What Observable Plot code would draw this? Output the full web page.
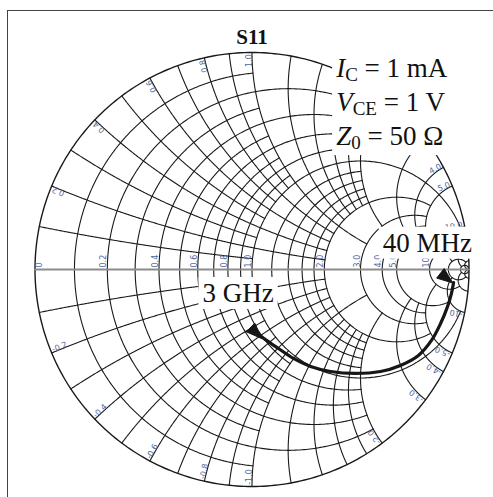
<!DOCTYPE html>
<html><head><meta charset="utf-8">
<script src="https://cdn.jsdelivr.net/npm/d3@7"></script>
<script src="https://cdn.jsdelivr.net/npm/@observablehq/plot@0.6"></script>
<style>
body{margin:0;background:#fff;overflow:hidden;}
#wrap{position:relative;width:493px;height:497px;overflow:hidden;background:#fff;}
#wrap svg{position:absolute;left:0;top:0;}
#frame{position:absolute;left:7px;top:10px;width:520px;height:520px;border:1.5px solid #444;pointer-events:none;}
</style></head><body>
<div id="wrap"></div>
<script>
// ---- Smith chart grid values ----
const rValues = [0.1,0.2,0.3,0.4,0.5,0.6,0.7,0.8,0.9,1.0,1.2,1.4,1.6,1.8,2.0,3.0,4.0,5.0,10,20,50];
const rReach  = [1,2,1,2,1,2,1,2,1,10,2,2,2,2,5,5,5,10,20,50,Infinity]; // max |x| drawn
const xValues = [0.1,0.2,0.3,0.4,0.5,0.6,0.7,0.8,0.9,1.0,1.2,1.4,1.6,1.8,2.0,3.0,4.0,5.0,10,20,50];
const xReach  = [1,2,1,2,1,2,1,2,1,3,2,2,2,2,3,5,5,10,20,50,Infinity]; // max r drawn

// ---- tick labels ----
const rLabelValues = [0.2,0.4,0.6,0.8,1.0,2.0,3.0,4.0,5.0,10];
const rLabelTexts  = ["0.2","0.4","0.6","0.8","1.0","2.0","3.0","4.0","5.0","10.0"];
const xLabelValues = [0.2,0.4,0.6,0.8,1.0,2.0,3.0,4.0,5.0,10];
const xLabelPos    = ["0.2","0.4","0.6","0.8","1.0","2.0","3.0","4.0","5.0","10.0"];
const xLabelNeg    = ["-0.2","-0.4","-0.6","-0.8","-1.0","-2.0","-3.0","-4.0","-5.0","-10"];

// ---- S11 data (40 MHz -> 3 GHz), reflection coefficient ----
const s11Re = [0.929,0.919,0.901,0.869,0.827,0.767,0.684,0.592,0.477,0.362,0.270,0.191,0.122,0.062,0.007];
const s11Im = [-0.060,-0.111,-0.171,-0.249,-0.327,-0.396,-0.442,-0.470,-0.479,-0.470,-0.447,-0.410,-0.364,-0.323,-0.281];

// arrow heads (annotation): tip position and screen angle (deg, clockwise)
const arrowRe = [0.925, 0.044];
const arrowIm = [-0.062, -0.318];
const arrowAngle = [38, 45];

// annotation anchors (data coords)
const freqLabels = ["40 MHz", "3 GHz"];
const freqRe = [0.605, -0.226];
const freqIm = [0.080, -0.152];

const gamma = (r, x) => { const d = (r+1)*(r+1) + x*x; return [(r*r + x*x - 1)/d, 2*x/d]; };

const grid = [];
let id = 0;
rValues.forEach((r, i) => {
  const T = Math.atan(rReach[i]);
  const n = 400;
  for (let k = 0; k <= n; k++) {
    let t = -T + 2*T*k/n; t = Math.max(-1.5707, Math.min(1.5707, t));
    const [u, v] = gamma(r, Math.tan(t));
    grid.push({u, v, id});
  }
  id++;
});
xValues.forEach((x, i) => {
  const T = Math.atan(xReach[i]);
  for (const s of [1, -1]) {
    const n = 300;
    for (let k = 0; k <= n; k++) {
      let t = T*k/n; t = Math.min(1.5707, t);
      const [u, v] = gamma(Math.tan(t), s*x);
      grid.push({u, v, id});
    }
    id++;
  }
});
const outer = d3.range(0, 361, 1).map(a => ({u: Math.cos(a*Math.PI/180), v: Math.sin(a*Math.PI/180)}));
const axis = [{u:-1, v:0}, {u:1, v:0}];

const rLabels = rLabelValues.map((r, i) => ({u: gamma(r, 0)[0], v: 0, text: rLabelTexts[i]}));
const xLabels = [];
xLabelValues.forEach((x, i) => {
  for (const s of [1, -1]) {
    const [u, v] = gamma(0, s*x);
    const th = Math.atan2(v, u) * 180 / Math.PI;
    const k = 0.992;
    xLabels.push({u: u*k, v: v*k, text: s > 0 ? xLabelPos[i] : xLabelNeg[i], rot: s > 0 ? -th : -th - 180, pos: s > 0});
  }
});

const curve = s11Re.map((re, i) => ({re, im: s11Im[i]}));
// filled triangle heads built from tip + direction (data units; 1 unit = chart radius)
const L = 0.072, Wd = 0.028;
const heads = [];
arrowRe.forEach((re, i) => {
  const a = arrowAngle[i] * Math.PI / 180;
  const dx = Math.cos(a), dy = -Math.sin(a); // screen clockwise -> data
  const px = -dy, py = dx;
  const tip = [re, arrowIm[i]];
  const base = [re - L*dx, arrowIm[i] - L*dy];
  heads.push({u: tip[0], v: tip[1], k: i});
  heads.push({u: base[0] + Wd*px, v: base[1] + Wd*py, k: i});
  heads.push({u: base[0] - Wd*px, v: base[1] - Wd*py, k: i});
  heads.push({u: tip[0], v: tip[1], k: i});
});

const W = 493, H = 497;
const cx = 251.5, cy = 269, R = 217;
const gridColor = "#1a1a1a";
const labelColor = "#4a65a0";
const labelFont = "DejaVu Sans";
const LFS = 8;

const plot = Plot.plot({
  width: W, height: H,
  marginLeft: cx - R, marginRight: W - (cx + R), marginTop: cy - R, marginBottom: H - (cy + R),
  x: {domain: [-1, 1], axis: null},
  y: {domain: [-1, 1], axis: null},
  style: {background: "transparent"},
  marks: [
    Plot.line(grid, {x: "u", y: "v", z: "id", stroke: gridColor, strokeWidth: 1.1}),
    Plot.line(outer, {x: "u", y: "v", stroke: gridColor, strokeWidth: 1.4}),
    Plot.line(axis, {x: "u", y: "v", stroke: "#8c8c8c", strokeWidth: 1.8}),
    Plot.text(rLabels, {x: "u", y: "v", text: "text", rotate: -90, textAnchor: "start", lineAnchor: "bottom", dy: -2, dx: -1, fill: labelColor, fontSize: LFS, fontFamily: labelFont}),
    Plot.text([{u: -1, v: 0}], {x: "u", y: "v", text: () => "0", rotate: -90, textAnchor: "start", lineAnchor: "top", dx: 1, dy: -2, fill: labelColor, fontSize: LFS, fontFamily: labelFont}),
    Plot.text(xLabels.filter(d => d.pos), {x: "u", y: "v", text: "text", rotate: "rot", textAnchor: "end", lineAnchor: "bottom", fill: labelColor, fontSize: LFS, fontFamily: labelFont}),
    Plot.text(xLabels.filter(d => !d.pos), {x: "u", y: "v", text: "text", rotate: "rot", textAnchor: "start", lineAnchor: "bottom", fill: labelColor, fontSize: LFS, fontFamily: labelFont}),
    Plot.line(curve, {x: "re", y: "im", curve: "catmull-rom", stroke: "#161616", strokeWidth: 3.2, strokeLinecap: "round"}),
    Plot.line(heads, {x: "u", y: "v", z: "k", fill: "#161616", stroke: "#161616", strokeWidth: 1}),
    Plot.text(["S11"], {frameAnchor: "top", lineAnchor: "bottom", dy: -9, fontWeight: "bold", fontSize: 21, fontFamily: "Liberation Serif", fill: "#111"})
  ]
});

const wrap = document.getElementById("wrap");
wrap.appendChild(plot);
const frame = document.createElement("div"); frame.id = "frame"; wrap.appendChild(frame);

// ---- annotations with white backgrounds ----
const svg = d3.select(plot);
const sx = plot.scale("x"), sy = plot.scale("y");
const serif = "Liberation Serif";
const FS = 27;

function addBox(g, pad) {
  const b = g.node().getBBox();
  g.insert("rect", ":first-child").attr("x", b.x - pad[0]).attr("y", b.y - pad[1])
    .attr("width", b.width + 2*pad[0]).attr("height", b.height + 2*pad[1]).attr("fill", "white");
}

// frequency labels
freqLabels.forEach((t, i) => {
  const g = svg.append("g").attr("text-anchor", "start");
  g.append("text").attr("x", sx.apply(freqRe[i])).attr("y", sy.apply(freqIm[i]))
    .attr("text-anchor", "start")
    .attr("font-family", serif).attr("font-size", FS).attr("fill", "#111").text(t);
  addBox(g, [4, 1]);
});

// bias conditions
const cond = [
  {main: "I", sub: "C", rest: " = 1 mA"},
  {main: "V", sub: "CE", rest: " = 1 V"},
  {main: "Z", sub: "0", rest: " = 50 Ω"}
];
const condX = 0.39, condY0 = 0.885, condStep = 0.157;
const gc = svg.append("g").attr("text-anchor", "start");
cond.forEach((c, i) => {
  const t = gc.append("text").attr("x", sx.apply(condX)).attr("y", sy.apply(condY0 - i*condStep))
    .attr("text-anchor", "start")
    .attr("font-family", serif).attr("font-size", FS).attr("fill", "#111");
  t.append("tspan").attr("font-style", "italic").text(c.main);
  t.append("tspan").attr("font-size", 19).attr("dy", 4).text(c.sub);
  t.append("tspan").attr("dy", -4).text(c.rest);
});
addBox(gc, [3, 2]);
</script>
</body></html>
